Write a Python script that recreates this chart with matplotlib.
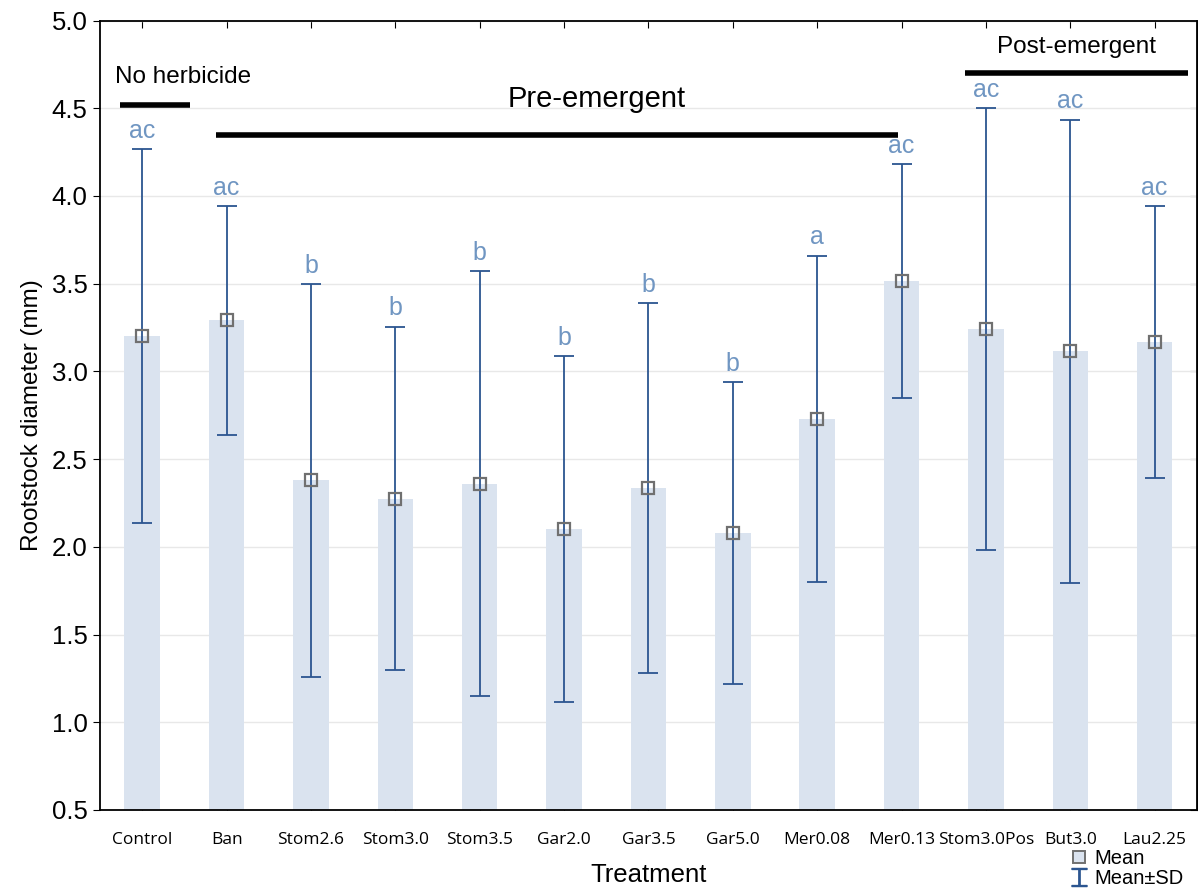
import matplotlib.pyplot as plt
import numpy as np
from matplotlib.lines import Line2D

treatments = ['Control', 'Ban', 'Stom2.6', 'Stom3.0', 'Stom3.5', 'Gar2.0', 'Gar3.5',
              'Gar5.0', 'Mer0.08', 'Mer0.13', 'Stom3.0Pos', 'But3.0', 'Lau2.25']
means = [3.20, 3.29, 2.38, 2.275, 2.36, 2.10, 2.335, 2.08, 2.73, 3.515, 3.24, 3.115, 3.165]
sds = [1.065, 0.65, 1.12, 0.98, 1.21, 0.985, 1.055, 0.86, 0.93, 0.665, 1.26, 1.32, 0.775]
letters = ['ac', 'ac', 'b', 'b', 'b', 'b', 'b', 'b', 'a', 'ac', 'ac', 'ac', 'ac']

# group bars: label, x start, x end, y, label x, label y, font size
groups = [('No herbicide', -0.26, 0.57, 4.52, 0.49, 4.615, 17.5),
          ('Pre-emergent', 0.87, 8.96, 4.35, 5.39, 4.475, 21),
          ('Post-emergent', 9.75, 12.4, 4.70, 11.07, 4.785, 17.5)]

bar_col = '#dae3ef'
err_col = '#2b5590'
let_col = '#7096c2'

fig = plt.figure(figsize=(11.98, 8.92), dpi=100)
ax = fig.add_axes([0.0835, 0.092, 0.9155, 0.885])
x = np.arange(len(treatments))

ax.bar(x, means, width=0.42, bottom=0, color=bar_col, zorder=1)
ax.errorbar(x, means, yerr=sds, fmt='none', ecolor=err_col, elinewidth=1.3,
            capsize=7, capthick=1.3, zorder=3)
ax.plot(x, means, 's', ms=9, mfc='none', mec='#707070', mew=1.6, zorder=4)

for xi, m, s, l in zip(x, means, sds, letters):
    ax.text(xi, m + s + 0.035, l, ha='center', va='bottom', color=let_col,
            fontsize=18, family='Liberation Sans')

for lab, x0, x1, y, lx, ly, fs in groups:
    ax.plot([x0, x1], [y, y], color='black', lw=4, solid_capstyle='butt', zorder=5)
    ax.text(lx, ly, lab, ha='center', va='bottom', fontsize=fs, family='Liberation Sans')

ax.set_xlim(-0.5, 12.5)
ax.set_ylim(0.5, 5.0)
ax.set_yticks(np.arange(0.5, 5.01, 0.5))
ax.set_yticklabels(['%.1f' % v for v in np.arange(0.5, 5.01, 0.5)],
                   fontsize=18.5, family='Liberation Sans')
ax.set_xticks(x)
ax.set_xticklabels(treatments, fontsize=12.5, family='Open Sans')
ax.tick_params(axis='x', direction='in', top=True, length=5, pad=16)
ax.tick_params(axis='y', direction='out', length=5, right=False, pad=4)
ax.grid(axis='y', color='#e8e8e8', lw=1, zorder=0)
ax.set_axisbelow(True)
for sp in ax.spines.values():
    sp.set_linewidth(1.3)

# right side inward ticks
ax2 = ax.secondary_yaxis('right')
ax2.set_yticks(np.arange(0.5, 5.01, 0.5))
ax2.tick_params(direction='in', length=5, labelright=False)

ax.set_ylabel('Rootstock diameter (mm)', fontsize=17.5, family='Liberation Sans', labelpad=6)
ax.set_xlabel('Treatment', fontsize=18.5, family='Liberation Sans', labelpad=11)

handles = [Line2D([], [], marker='s', ls='none', ms=9, mfc=bar_col, mec='#707070', mew=1.4),
           Line2D([], [], marker='$\u2336$', ls='none', ms=13, color=err_col)]
fig.legend(handles, ['Mean', 'Mean\u00b1SD'], loc='lower right', bbox_to_anchor=(1.0, -0.011),
           frameon=False, prop={'family': 'Liberation Sans', 'size': 14.5},
           handlelength=0.8, handletextpad=0.4, labelspacing=0.05, borderpad=0.2)

fig.savefig('out.png', dpi=100)
